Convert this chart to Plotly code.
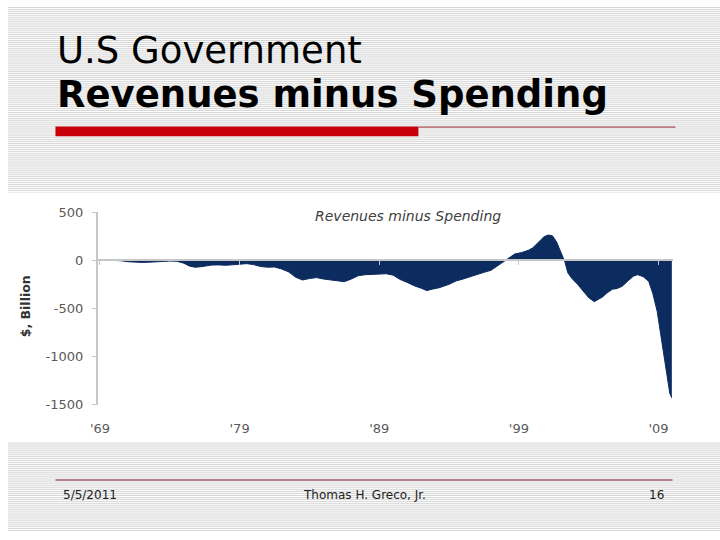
import plotly.graph_objects as go

# ---- data ----
years = [1969.0, 1969.5, 1970.0, 1970.5, 1971.0, 1971.5, 1972.0, 1972.5, 1973.0, 1973.5,
         1974.0, 1974.5, 1975.0, 1975.4, 1975.8, 1976.2, 1976.6, 1977.0, 1977.5, 1978.0,
         1978.5, 1979.0, 1979.5, 1980.0, 1980.5, 1981.0, 1981.5, 1982.0, 1982.5, 1983.0,
         1983.5, 1984.0, 1984.5, 1985.0, 1985.5, 1986.0, 1986.5, 1987.0, 1987.5, 1988.0,
         1988.5, 1989.0, 1989.5, 1990.0, 1990.5, 1991.0, 1991.5, 1992.0, 1992.4, 1992.8,
         1993.3, 1994.0, 1994.5, 1995.0, 1995.5, 1996.0, 1996.5, 1997.0, 1997.5, 1998.0,
         1998.3, 1998.7, 1999.2, 1999.7, 2000.0, 2000.4, 2000.8, 2001.1, 2001.4, 2001.7,
         2002.0, 2002.3, 2002.5, 2002.8, 2003.2, 2003.6, 2004.0, 2004.4, 2004.7, 2005.0,
         2005.3, 2005.7, 2006.0, 2006.4, 2006.8, 2007.2, 2007.5, 2007.9, 2008.3, 2008.6,
         2008.9, 2009.2, 2009.4, 2009.6, 2009.8, 2009.95]
balance = [5, 3, 0, -5, -15, -20, -22, -20, -15, -12,
           -8, -10, -30, -60, -72, -68, -58, -50, -48, -52,
           -47, -40, -35, -45, -65, -72, -70, -90, -120, -175,
           -205, -190, -180, -195, -205, -215, -222, -195, -160, -150,
           -145, -142, -140, -155, -200, -230, -265, -290, -315, -300,
           -285, -250, -215, -195, -170, -150, -125, -105, -55, -5,
           30, 65, 80, 105, 130, 190, 245, 262, 255, 190,
           80, -20, -130, -190, -250, -320, -390, -430, -405, -380,
           -340, -300, -295, -270, -215, -165, -150, -170, -220, -350,
           -530, -800, -1000, -1200, -1380, -1430]

x_tick_vals = [1969, 1979, 1989, 1999, 2009]
x_tick_text = ["'69", "'79", "'89", "'99", "'09"]
y_tick_vals = [-1500, -1000, -500, 0, 500]
y_tick_text = ["-1500", "-1000", "-500", "0", "500"]

slide_title_1 = "U.S Government"
slide_title_2 = "Revenues minus Spending"
chart_title = "Revenues minus Spending"
y_title = "$, Billion"
footer_date = "5/5/2011"
footer_author = "Thomas H. Greco, Jr."
footer_page = "16"

# ---- layout helpers (pixel -> paper, margins are zero) ----
W, H = 720, 540
def px(x):
    return x / W
def py(y):
    return 1 - y / H

x_range = [1968.86, 2010.0]
y_range = [-1500, 500]
x_dom = [px(91), px(672)]
y_dom = [py(409), py(211)]
zero_pos = y_dom[0] + (0 - y_range[0]) / (y_range[1] - y_range[0]) * (y_dom[1] - y_dom[0])

navy = "#0c2b5e"
axis_gray = "#c6c6c6"
label_gray = "#5a5a5a"

fig = go.Figure()
fig.add_trace(go.Scatter(x=years, y=balance, mode="lines", fill="tozeroy",
                         line=dict(color=navy, width=1), fillcolor=navy,
                         hoverinfo="skip", showlegend=False))
# invisible trace to activate the zero-crossing axis
fig.add_trace(go.Scatter(x=[years[0]], y=[0], xaxis="x2", mode="markers",
                         marker=dict(opacity=0), showlegend=False, hoverinfo="skip"))

# striped slide background
stripe_rows = list(range(0, 190, 2)) + list(range(448, 540, 2))
path = " ".join(f"M0,{py(r + 0.5):.5f} L1,{py(r + 0.5):.5f}" for r in stripe_rows)
shapes = [
    dict(type="path", xref="paper", yref="paper", path=path,
         line=dict(color="#d6d6d6", width=1), layer="below"),
    dict(type="line", xref="paper", yref="paper", x0=0, x1=1, y0=py(190.5), y1=py(190.5),
         line=dict(color="#e4e4e4", width=1), layer="below"),
    # red title bar and thin rule
    dict(type="rect", xref="paper", yref="paper", x0=px(48), x1=px(415), y0=py(133), y1=py(123),
         fillcolor="#c8000a", line=dict(width=0)),
    dict(type="line", xref="paper", yref="paper", x0=px(415), x1=px(675), y0=py(123.5), y1=py(123.5),
         line=dict(color="#9a2a38", width=1)),
    # footer rule
    dict(type="line", xref="paper", yref="paper", x0=px(48), x1=px(672), y0=py(486.5), y1=py(486.5),
         line=dict(color="#7a1c2a", width=1.2)),
]

annotations = [
    dict(text=slide_title_1, xref="paper", yref="paper", x=px(48), y=py(45), xanchor="left",
         yanchor="middle", showarrow=False, font=dict(family="DejaVu Sans", size=37, color="#000")),
    dict(text="<b>" + slide_title_2 + "</b>", xref="paper", yref="paper", x=px(48), y=py(90),
         xanchor="left", yanchor="middle", showarrow=False,
         font=dict(family="DejaVu Sans", size=37, color="#000")),
    dict(text="<i>" + chart_title + "</i>", xref="paper", yref="paper", x=px(404), y=py(215),
         xanchor="center", yanchor="middle", showarrow=False,
         font=dict(family="DejaVu Sans", size=14, color="#404040")),
    dict(text="<b>" + y_title + "</b>", xref="paper", yref="paper", x=px(18), y=py(308),
         xanchor="center", yanchor="middle", textangle=-90, showarrow=False,
         font=dict(family="DejaVu Sans", size=12.5, color="#333")),
    dict(text=footer_date, xref="paper", yref="paper", x=px(54), y=py(502), xanchor="left",
         yanchor="middle", showarrow=False, font=dict(family="DejaVu Sans", size=12, color="#222")),
    dict(text=footer_author, xref="paper", yref="paper", x=px(360), y=py(502), xanchor="center",
         yanchor="middle", showarrow=False, font=dict(family="DejaVu Sans", size=12, color="#222")),
    dict(text=footer_page, xref="paper", yref="paper", x=px(665), y=py(502), xanchor="right",
         yanchor="middle", showarrow=False, font=dict(family="DejaVu Sans", size=12, color="#222")),
]

fig.update_layout(
    width=W, height=H,
    margin=dict(l=0, r=0, t=0, b=0),
    paper_bgcolor="white", plot_bgcolor="rgba(0,0,0,0)",
    showlegend=False,
    shapes=shapes, annotations=annotations,
    xaxis=dict(domain=x_dom, range=x_range, tickvals=x_tick_vals, ticktext=x_tick_text,
               showgrid=False, zeroline=False, showline=False, ticks="",
               ticklabelstandoff=14,
               tickfont=dict(family="DejaVu Sans", size=13, color=label_gray), fixedrange=True),
    xaxis2=dict(overlaying="x", matches="x", anchor="free", position=zero_pos,
                tickvals=x_tick_vals, showticklabels=False, ticks="outside", ticklen=4,
                tickcolor=axis_gray, tickwidth=1, showline=True, linecolor=axis_gray,
                linewidth=2, showgrid=False, zeroline=False),
    yaxis=dict(domain=y_dom, range=y_range, tickvals=y_tick_vals, ticktext=y_tick_text,
               showgrid=False, zeroline=False, showline=True, linecolor=axis_gray, linewidth=2,
               ticks="outside", ticklen=4, tickcolor=axis_gray, ticklabelstandoff=6,
               tickfont=dict(family="DejaVu Sans", size=13, color=label_gray)),
)

fig.write_html("out.html", config=dict(displayModeBar=False),
               post_script="document.body.style.margin='0';document.body.style.overflow='hidden';")
